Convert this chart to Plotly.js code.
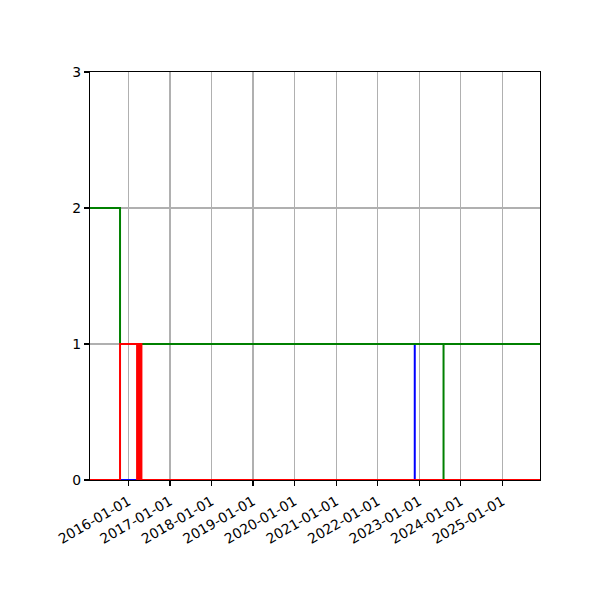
<!DOCTYPE html>
<html>
<head>
<meta charset="utf-8">
<script src="https://cdn.plot.ly/plotly-3.0.1.min.js"></script>
<style>
  html, body { margin: 0; padding: 0; background: #fff; }
  #axes { width: 600px; height: 600px; }
</style>
</head>
<body>
<div id="axes"></div>
<script>
const X_START = "2015-01-29";
const X_END = "2025-11-28";

const blueDates = [X_START, "2016-04-08", "2022-11-23", X_END];
const blueValues = [0, 1, 0, 0];

const greenDates = [X_START, "2015-10-20", "2023-08-03", "2023-08-03", X_END];
const greenValues = [2, 1, 0, 1, 1];

const redDates = [X_START, "2015-10-20", "2016-03-18", "2016-03-24", "2016-03-30",
  "2016-04-05", "2016-04-11", "2016-04-17", "2016-04-25", X_END];
const redValues = [0, 1, 0, 1, 0, 1, 0, 1, 0, 0];

const tickDates = ["2016-01-01", "2017-01-01", "2018-01-01", "2019-01-01", "2020-01-01",
  "2021-01-01", "2022-01-01", "2023-01-01", "2024-01-01", "2025-01-01"];
const yTicks = [0, 1, 2, 3];

function stepTrace(x, y, color) {
  return {
    x: x,
    y: y,
    type: "scatter",
    mode: "lines",
    line: { shape: "hv", color: color, width: 2 },
    hoverinfo: "skip",
  };
}

const data = [
  stepTrace(blueDates, blueValues, "blue"),
  stepTrace(greenDates, greenValues, "green"),
  stepTrace(redDates, redValues, "red"),
];

const axisCommon = {
  showline: true,
  mirror: true,
  linecolor: "black",
  linewidth: 1.1,
  ticks: "outside",
  ticklen: 5,
  tickwidth: 1.1,
  tickcolor: "black",
  showgrid: true,
  gridcolor: "#b0b0b0",
  gridwidth: 1.1,
  zeroline: false,
  layer: "below traces",
  tickfont: { family: "DejaVu Sans", size: 13.9, color: "black" },
};

const layout = {
  width: 600,
  height: 600,
  margin: { l: 90, r: 60, t: 72, b: 120 },
  paper_bgcolor: "white",
  plot_bgcolor: "white",
  showlegend: false,
  xaxis: Object.assign({}, axisCommon, {
    type: "date",
    range: [X_START, X_END],
    tickmode: "array",
    tickvals: tickDates,
    ticktext: tickDates,
    tickangle: -30,
    ticklabelstandoff: 2,
  }),
  yaxis: Object.assign({}, axisCommon, {
    range: [0, 3],
    tickmode: "array",
    tickvals: yTicks,
    ticktext: yTicks.map(String),
  }),
};

Plotly.newPlot("axes", data, layout, { staticPlot: true });
</script>
</body>
</html>
